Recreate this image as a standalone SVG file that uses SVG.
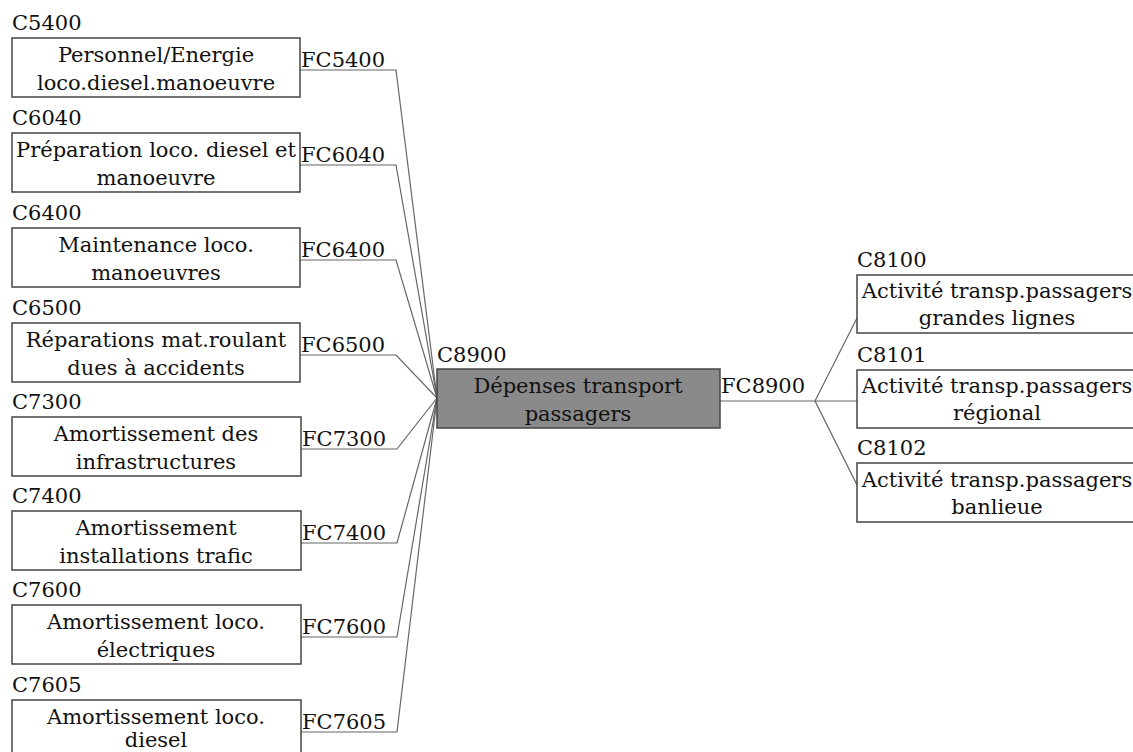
<svg xmlns="http://www.w3.org/2000/svg" width="1133" height="752" viewBox="0 0 1133 752">
<style>
text{font-family:"DejaVu Serif","Liberation Serif",serif;font-size:21px;fill:#111}
.c{text-anchor:middle}
.box{fill:#fff;stroke:#444;stroke-width:1.5}
.main{fill:#8a8a8a;stroke:#444;stroke-width:1.5}
.con{fill:none;stroke:#666;stroke-width:1.2}
</style>
<rect width="1133" height="752" fill="#fff"/>
<g id="connectors">
<polyline class="con" points="300,70 396,70 437,398"/>
<polyline class="con" points="300,165 396,165 437,398"/>
<polyline class="con" points="300,260 396,260 437,398"/>
<polyline class="con" points="300,355 396,355 437,398"/>
<polyline class="con" points="300,449 397,449 437,398"/>
<polyline class="con" points="300,543 397,543 437,398"/>
<polyline class="con" points="300,637 397,637 437,398"/>
<polyline class="con" points="300,732 397,732 437,398"/>
<polyline class="con" points="720,401 815,401 857,318"/>
<polyline class="con" points="815,401 857,401"/>
<polyline class="con" points="815,401 857,485"/>
</g>
<g id="C5400"><text x="12" y="30">C5400</text><rect class="box" x="12" y="38" width="288" height="59"/><text class="c" x="156" y="62">Personnel/Energie</text><text class="c" x="156" y="90">loco.diesel.manoeuvre</text><text x="301" y="67">FC5400</text></g>
<g id="C6040"><text x="12" y="125">C6040</text><rect class="box" x="12" y="133" width="288" height="59"/><text class="c" x="156" y="157">Préparation loco. diesel et</text><text class="c" x="156" y="185">manoeuvre</text><text x="301" y="162">FC6040</text></g>
<g id="C6400"><text x="12" y="220">C6400</text><rect class="box" x="12" y="228" width="288" height="59"/><text class="c" x="156" y="252">Maintenance loco.</text><text class="c" x="156" y="280">manoeuvres</text><text x="301" y="257">FC6400</text></g>
<g id="C6500"><text x="12" y="315">C6500</text><rect class="box" x="12" y="323" width="288" height="59"/><text class="c" x="156" y="347">Réparations mat.roulant</text><text class="c" x="156" y="375">dues à accidents</text><text x="301" y="352">FC6500</text></g>
<g id="C7300"><text x="12" y="409">C7300</text><rect class="box" x="12" y="417" width="289" height="59"/><text class="c" x="156" y="441">Amortissement des</text><text class="c" x="156" y="469">infrastructures</text><text x="302" y="446">FC7300</text></g>
<g id="C7400"><text x="12" y="503">C7400</text><rect class="box" x="12" y="511" width="289" height="59"/><text class="c" x="156" y="535">Amortissement</text><text class="c" x="156" y="563">installations trafic</text><text x="302" y="540">FC7400</text></g>
<g id="C7600"><text x="12" y="597">C7600</text><rect class="box" x="12" y="605" width="289" height="59"/><text class="c" x="156" y="629">Amortissement loco.</text><text class="c" x="156" y="657">électriques</text><text x="302" y="634">FC7600</text></g>
<g id="C7605"><text x="12" y="692">C7605</text><rect class="box" x="12" y="700" width="289" height="60"/><text class="c" x="156" y="724">Amortissement loco.</text><text class="c" x="156" y="747">diesel</text><text x="302" y="729">FC7605</text></g>
<g id="C8900"><text x="437" y="362">C8900</text><rect class="main" x="437" y="369" width="283" height="59"/><text class="c" x="578" y="393">Dépenses transport</text><text class="c" x="578" y="421">passagers</text><text x="721" y="393">FC8900</text></g>
<g id="C8100"><text x="857" y="267">C8100</text><rect class="box" x="857" y="275" width="282" height="58"/><text class="c" x="997" y="298">Activité transp.passagers</text><text class="c" x="997" y="325">grandes lignes</text></g>
<g id="C8101"><text x="857" y="362">C8101</text><rect class="box" x="857" y="370" width="282" height="58"/><text class="c" x="997" y="393">Activité transp.passagers</text><text class="c" x="997" y="420">régional</text></g>
<g id="C8102"><text x="857" y="455">C8102</text><rect class="box" x="857" y="463" width="282" height="59"/><text class="c" x="997" y="487">Activité transp.passagers</text><text class="c" x="997" y="514">banlieue</text></g>
</svg>
